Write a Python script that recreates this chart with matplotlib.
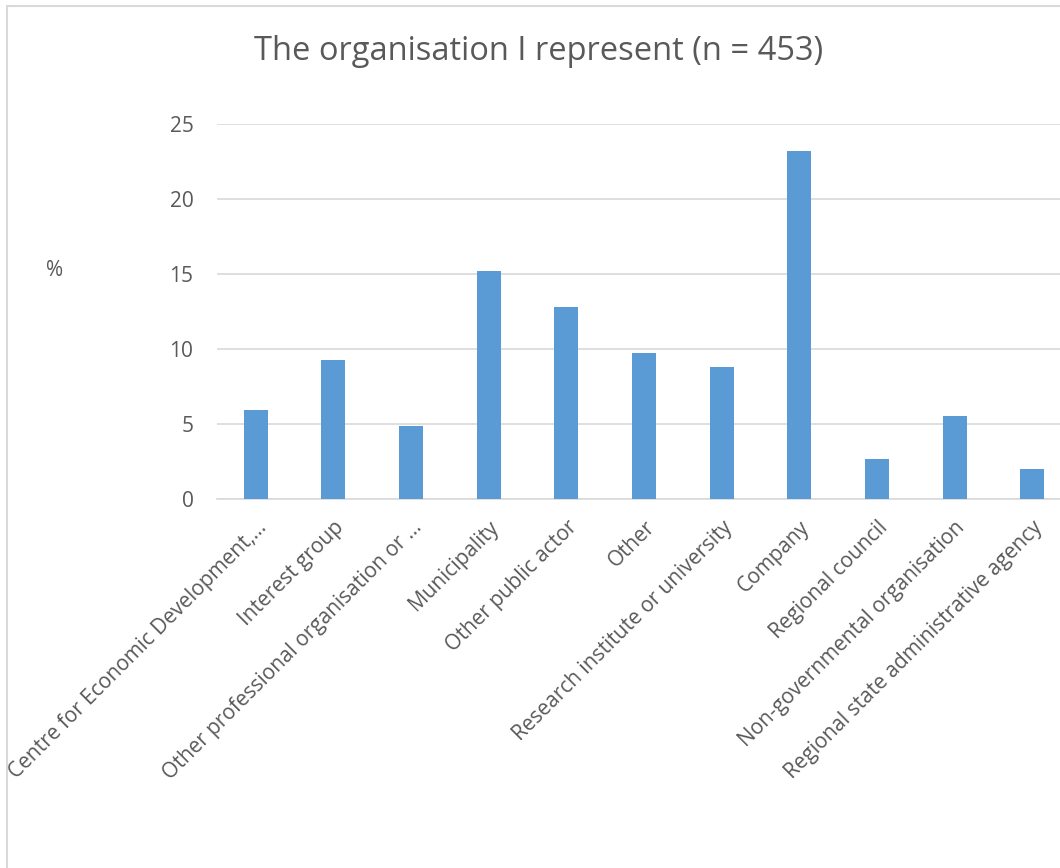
import matplotlib
matplotlib.use('Agg')
import matplotlib.pyplot as plt
from matplotlib.patches import Rectangle
from matplotlib.transforms import ScaledTranslation

plt.rcParams['font.family'] = ['Open Sans', 'DejaVu Sans']

# 数据（百分比，n = 453）
categories = ['Centre for Economic Development,…', 'Interest group',
              'Other professional organisation or …', 'Municipality',
              'Other public actor', 'Other', 'Research institute or university',
              'Company', 'Regional council', 'Non-governmental organisation',
              'Regional state administrative agency']
percent = [5.96, 9.27, 4.86, 15.23, 12.80, 9.71, 8.83, 23.18, 2.65, 5.52, 1.99]
yticks = [0, 5, 10, 15, 20, 25]

text_col = '#595959'
grid_col = '#D9D9D9'
bar_col = '#5B9BD5'

W, H = 1060, 868
fig = plt.figure(figsize=(W / 100, H / 100), dpi=100)

# 图表外框（右侧和底部被裁掉）
fig.patches.append(Rectangle((7 / W, -0.2), 1.3, 1.2 - 6 / H,
                             transform=fig.transFigure, fill=False,
                             edgecolor=grid_col, linewidth=1.5))

ax = fig.add_axes([217 / W, (H - 499) / H, (1071 - 217) / W, (499 - 124) / H])
x = range(len(categories))
ax.bar(x, percent, width=0.31, color=bar_col, zorder=3)

ax.set_xlim(-0.5, len(categories) - 0.5)
ax.set_ylim(0, 25)
ax.set_yticks(yticks)
ax.set_yticklabels([str(v) for v in yticks])
ax.grid(axis='y', color=grid_col, linewidth=1.2, zorder=0)
for s in ['top', 'right', 'left']:
    ax.spines[s].set_visible(False)
ax.spines['bottom'].set_color(grid_col)
ax.spines['bottom'].set_linewidth(1.2)
ax.tick_params(axis='both', length=0, colors=text_col, labelsize=15)
ax.tick_params(axis='y', pad=17)

ax.set_xticks(list(x))
ax.set_xticklabels(categories, rotation=45, ha='right', va='top',
                   rotation_mode='anchor', fontsize=15, color=text_col)
off = ScaledTranslation(0 / 100, -13 / 100, fig.dpi_scale_trans)
for lab in ax.get_xticklabels():
    lab.set_transform(lab.get_transform() + off)

fig.text(55 / W, 1 - 270 / H, '%', fontsize=15, color=text_col,
         ha='center', va='center')
fig.text(539 / W, 1 - 51 / H, 'The organisation I represent (n = 453)',
         fontsize=23.5, color=text_col, ha='center', va='center')

fig.savefig('out.png', dpi=100)
